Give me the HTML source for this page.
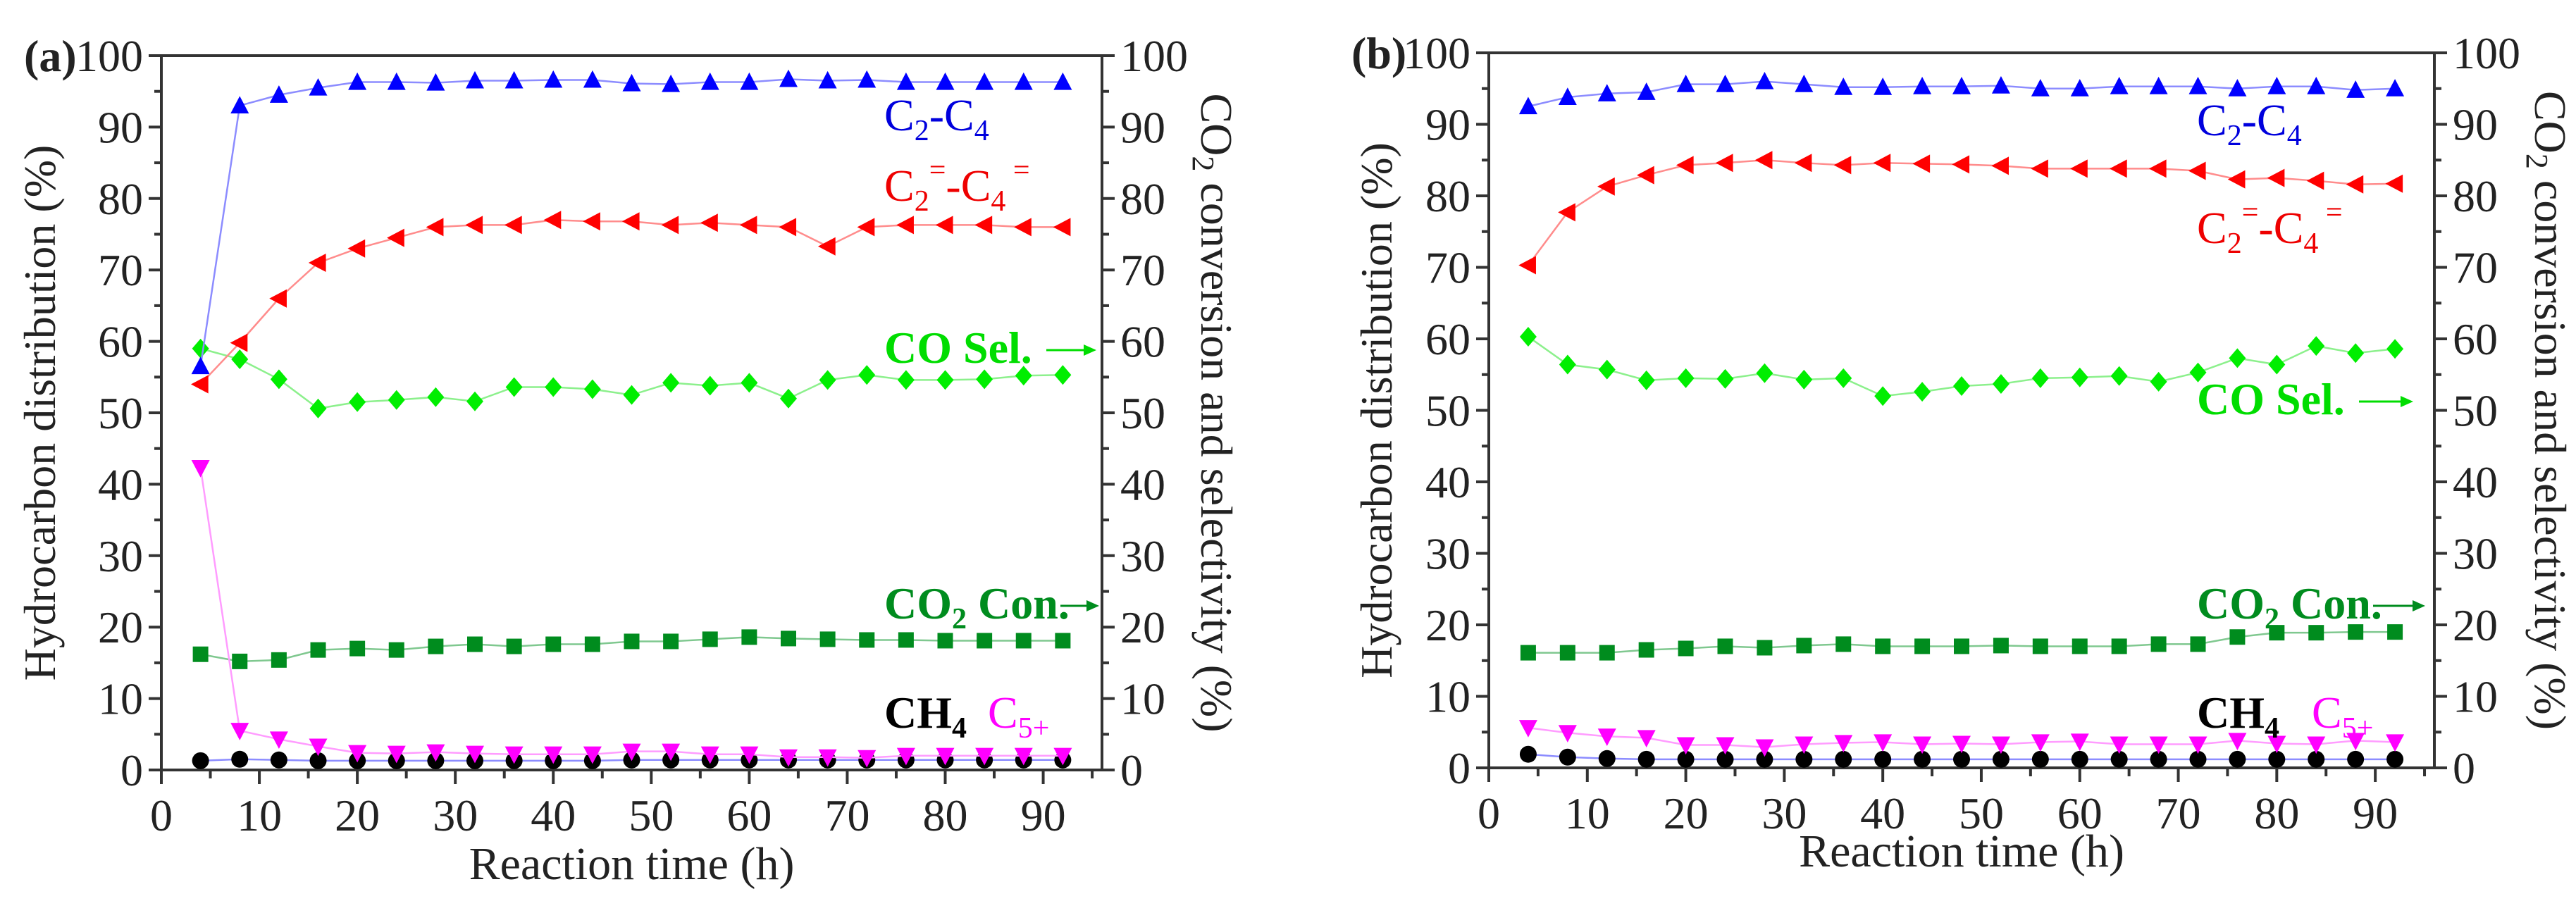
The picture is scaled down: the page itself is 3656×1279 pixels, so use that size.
<!DOCTYPE html>
<html><head><meta charset="utf-8"><style>
html,body{margin:0;padding:0;background:#fff;}
svg{display:block;}
svg text{font-family:"Liberation Serif","DejaVu Serif Condensed","DejaVu Serif",serif;}
</style></head><body>
<svg id="chart" width="3656" height="1279" viewBox="0 0 3656 1279" xmlns="http://www.w3.org/2000/svg"></svg>
<script>
const times = [4,8,12,16,20,24,28,32,36,40,44,48,52,56,60,64,68,72,76,80,84,88,92];
const xTicks = [0,10,20,30,40,50,60,70,80,90];
const yTicks = [0,10,20,30,40,50,60,70,80,90,100];
// Panel (a)
const aC2C4 = [56.5,93,94.5,95.5,96.3,96.3,96.2,96.5,96.5,96.6,96.6,96.1,96,96.3,96.3,96.7,96.5,96.6,96.3,96.3,96.3,96.3,96.3];
const aOlefin = [54,59.8,66,71,73,74.5,76,76.3,76.3,77,76.8,76.8,76.3,76.6,76.3,76,73.3,76,76.3,76.3,76.3,76,76];
const aCOSel = [59,57.5,54.7,50.6,51.5,51.8,52.2,51.6,53.6,53.6,53.3,52.5,54.2,53.8,54.2,52,54.6,55.3,54.6,54.6,54.7,55.2,55.3];
const aCO2Con = [16.2,15.2,15.4,16.8,17,16.8,17.3,17.6,17.3,17.6,17.6,18,18,18.3,18.6,18.4,18.3,18.2,18.2,18.1,18.1,18.1,18.1];
const aC5 = [42.3,5.5,4.3,3.3,2.4,2.3,2.5,2.3,2.2,2.2,2.2,2.6,2.6,2.2,2.2,1.8,1.8,1.7,2,2,2,2,2];
const aCH4 = [1.3,1.5,1.4,1.3,1.3,1.3,1.3,1.3,1.3,1.3,1.3,1.4,1.4,1.4,1.4,1.4,1.4,1.4,1.4,1.4,1.4,1.4,1.4];
// Panel (b)
const bC2C4 = [92.5,93.8,94.3,94.5,95.6,95.6,96,95.6,95.2,95.2,95.3,95.3,95.4,95,95,95.3,95.3,95.3,95,95.3,95.3,94.8,95];
const bOlefin = [70.3,77.7,81.3,82.9,84.3,84.6,85,84.6,84.3,84.6,84.5,84.4,84.2,83.8,83.8,83.8,83.8,83.5,82.3,82.5,82.1,81.6,81.7];
const bCOSel = [60.3,56.4,55.7,54.2,54.5,54.4,55.2,54.3,54.5,52,52.6,53.4,53.7,54.5,54.6,54.8,54,55.3,57.3,56.4,59,58,58.6];
const bCO2Con = [16.1,16.1,16.1,16.5,16.7,17,16.8,17.1,17.3,17,17,17,17.1,17,17,17,17.3,17.3,18.3,18.9,18.9,19,19];
const bC5 = [5.6,4.9,4.4,4.2,3.2,3.2,2.9,3.3,3.5,3.6,3.3,3.4,3.3,3.6,3.7,3.3,3.3,3.3,3.8,3.4,3.3,3.8,3.6];
const bCH4 = [1.9,1.5,1.3,1.2,1.2,1.2,1.2,1.2,1.2,1.2,1.2,1.2,1.2,1.2,1.2,1.2,1.2,1.2,1.2,1.2,1.2,1.2,1.2];

const NS = "http://www.w3.org/2000/svg";
const FONT = '"Liberation Serif", "DejaVu Serif Condensed", "DejaVu Serif", serif';
const svg = document.getElementById('chart');
function mk(tag, attrs, parent){ const e=document.createElementNS(NS,tag); for(const k in attrs) e.setAttribute(k,attrs[k]); if(tag==='text') e.style.fontFamily=FONT; (parent||svg).appendChild(e); return e; }

function marker(g, type, cx, cy, color){
  let e; const s=13;
  if(type==='up') e=mk('polygon',{points:`${cx-s},${cy+s*0.85} ${cx+s},${cy+s*0.85} ${cx},${cy-s*1.05}`,fill:color},g);
  else if(type==='down') e=mk('polygon',{points:`${cx-s},${cy-s*0.85} ${cx+s},${cy-s*0.85} ${cx},${cy+s*1.05}`,fill:color},g);
  else if(type==='left') e=mk('polygon',{points:`${cx+s*0.85},${cy-s} ${cx+s*0.85},${cy+s} ${cx-s*1.05},${cy}`,fill:color},g);
  else if(type==='diamond') e=mk('polygon',{points:`${cx},${cy-14} ${cx+12},${cy} ${cx},${cy+14} ${cx-12},${cy}`,fill:color},g);
  else if(type==='square') e=mk('rect',{x:cx-11,y:cy-11,width:22,height:22,fill:color},g);
  else e=mk('circle',{cx:cx,cy:cy,r:12,fill:color},g);
  
  
}

function panel(p){
  const g = mk('g',{});
  
  
  const X = v => p.x0 + (v/96)*(p.x1-p.x0);
  const Y = v => p.y0 - (v/100)*(p.y0-p.y1);
  const ax='#333';
  const fr = mk('rect',{x:p.x0,y:p.y1,width:p.x1-p.x0,height:p.y0-p.y1,fill:'none',stroke:ax,'stroke-width':4},g);
   
  mk('line',{x1:p.x0-18,y1:p.y0,x2:p.x0,y2:p.y0,stroke:ax,'stroke-width':4},g);
  mk('line',{x1:p.x0,y1:p.y0,x2:p.x0,y2:p.y0+20,stroke:ax,'stroke-width':4},g);
  yTicks.forEach(v=>{
    const y=Y(v);
    mk('line',{x1:p.x0-18,y1:y,x2:p.x0,y2:y,stroke:ax,'stroke-width':4},g);
    mk('line',{x1:p.x1,y1:y,x2:p.x1+18,y2:y,stroke:ax,'stroke-width':4},g);
    if(v<100){ const ym=Y(v+5);
      mk('line',{x1:p.x0-10,y1:ym,x2:p.x0,y2:ym,stroke:ax,'stroke-width':4},g);
      mk('line',{x1:p.x1,y1:ym,x2:p.x1+10,y2:ym,stroke:ax,'stroke-width':4},g);}
    const tl=mk('text',{x:p.x0-26,y:y+22,'text-anchor':'end','font-size':64,fill:'#222'},g); tl.textContent=v;
     
    const tr=mk('text',{x:p.x1+26,y:y+22,'text-anchor':'start','font-size':64,fill:'#222'},g); tr.textContent=v;
     
  });
  xTicks.forEach(v=>{
    const x=X(v);
    mk('line',{x1:x,y1:p.y0,x2:x,y2:p.y0+20,stroke:ax,'stroke-width':4},g);
    const xm=X(v+5); if(v+5<96) mk('line',{x1:xm,y1:p.y0,x2:xm,y2:p.y0+12,stroke:ax,'stroke-width':4},g);
    const t=mk('text',{x:x,y:p.y0+86,'text-anchor':'middle','font-size':64,fill:'#222'},g); t.textContent=v;
     
  });
  const pl=mk('text',{x:p.x0-195,y:p.y1+22,'font-size':64,'font-weight':'bold',fill:'#222'},g); pl.textContent='('+p.id+')';
   
  const xt=mk('text',{x:(p.x0+p.x1)/2,y:p.xtY,'text-anchor':'middle','font-size':66,fill:'#222'},g); xt.textContent='Reaction time (h)';
   
  const cy=(p.y0+p.y1)/2;
  const yt=mk('text',{x:0,y:0,'text-anchor':'middle','font-size':64,fill:'#222',transform:`translate(${p.ytX},${cy}) rotate(-90)`},g); yt.textContent='Hydrocarbon distribution (%)';
   
  const y2=mk('text',{x:0,y:0,'text-anchor':'middle','font-size':64,fill:'#222',transform:`translate(${p.y2X},${cy}) rotate(90)`},g);
  y2.innerHTML='CO<tspan font-size="44" dy="12">2</tspan><tspan dy="-12"> conversion and selectivity (%)</tspan>';
   
  p.series.forEach(s=>{
    const sg=mk('g',{},g);
     
    const pts=times.map((t,i)=>X(t)+','+Y(s.data[i])).join(' ');
    mk('polyline',{points:pts,fill:'none',stroke:s.line,'stroke-width':2.5},sg);
    times.forEach((t,i)=>marker(sg,s.m,X(t),Y(s.data[i]),s.color));
  });
  p.ann.forEach(a=>{
    const t=mk('text',{x:a.x,y:a.y,'font-size':64,fill:a.color,'font-weight':a.bold?'bold':'normal'},g);
    t.innerHTML=a.html;
     
    if(a.ax){ mk('line',{x1:a.ax,y1:a.y-18,x2:a.ax2-14,y2:a.y-18,stroke:a.color,'stroke-width':3},g);
      mk('polygon',{points:`${a.ax2},${a.y-18} ${a.ax2-18},${a.y-26} ${a.ax2-18},${a.y-10}`,fill:a.color},g);}
  });
}
function series(c2,ol,cos,co2,c5,ch4){return [
  {name:'co2-conversion',data:co2,color:'#008c1e',line:'#7fc88f',m:'square'},
  {name:'co-selectivity',data:cos,color:'#00ee00',line:'#8cf08c',m:'diamond'},
  {name:'c2-c4',data:c2,color:'#0000ff',line:'#8c8cff',m:'up'},
  {name:'c2-c4-olefins',data:ol,color:'#ff0000',line:'#ff8c8c',m:'left'},
  {name:'ch4',data:ch4,color:'#000',line:'#8c8cff',m:'circle'},
  {name:'c5-plus',data:c5,color:'#ff00ff',line:'#ff9cff',m:'down'}];}
function anns(x,yc2,yol,ysel,ycon,ych,xc5,arrEnd1,arrEnd2){return [
  {name:'label-c2-c4',x:x,y:yc2,color:'#0000dd',html:'C<tspan font-size="42" dy="14">2</tspan><tspan dy="-14">-C</tspan><tspan font-size="42" dy="14">4</tspan>'},
  {name:'label-olefins',x:x,y:yol,color:'#ee0000',html:'C<tspan font-size="42" dy="14">2</tspan><tspan font-size="42" dy="-44">=</tspan><tspan dy="30">-C</tspan><tspan font-size="42" dy="14">4</tspan><tspan font-size="42" dy="-44"> =</tspan>'},
  {name:'label-co-selectivity',x:x,y:ysel,color:'#00dd00',bold:true,html:'CO Sel.',ax:x+230,ax2:arrEnd1},
  {name:'label-co2-conversion',x:x,y:ycon,color:'#008c1e',bold:true,html:'CO<tspan font-size="42" dy="14">2</tspan><tspan dy="-14"> Con.</tspan>',ax:x+250,ax2:arrEnd2},
  {name:'label-ch4',x:x,y:ych,color:'#000',bold:true,html:'CH<tspan font-size="42" dy="14">4</tspan>'},
  {name:'label-c5-plus',x:xc5,y:ych,color:'#ff00ff',html:'C<tspan font-size="42" dy="14">5+</tspan>'}];}
panel({id:'a',x0:229,x1:1564,y0:1093,y1:79,xtY:1248,ytX:78,y2X:1705,
  series:series(aC2C4,aOlefin,aCOSel,aCO2Con,aC5,aCH4),
  ann:anns(1255,185,285,515,878,1033,1402,1556,1560)});
panel({id:'b',x0:2113,x1:3455,y0:1090,y1:75,xtY:1230,ytX:1975,y2X:3598,
  series:series(bC2C4,bOlefin,bCOSel,bCO2Con,bC5,bCH4),
  ann:anns(3118,192,345,588,878,1033,3281,3425,3442)});
</script>
</body></html>
